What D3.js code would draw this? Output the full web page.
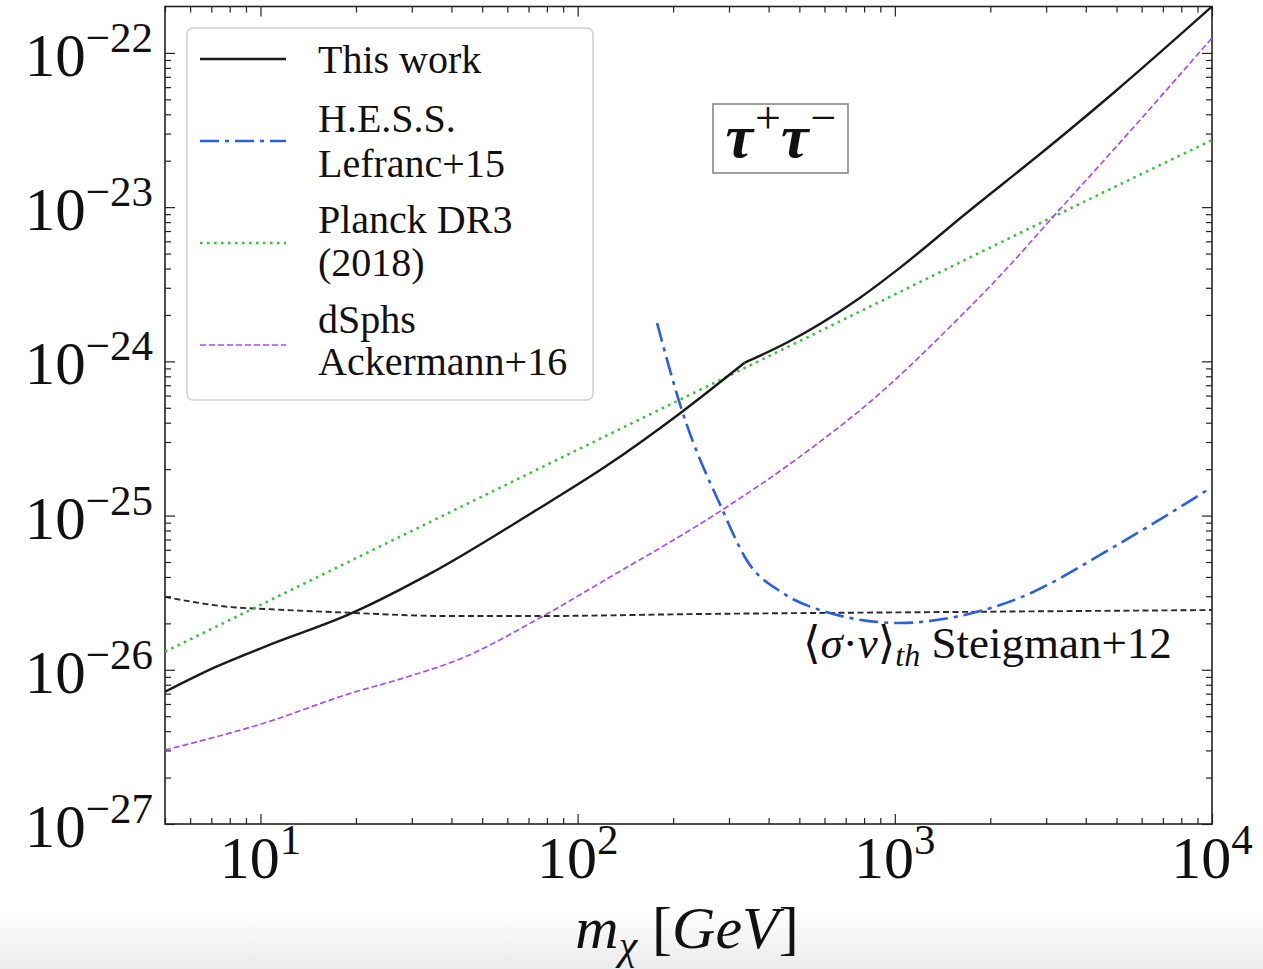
<!DOCTYPE html>
<html>
<head>
<meta charset="utf-8">
<script src="https://cdn.jsdelivr.net/npm/d3@7"></script>
<style>
  html, body { margin: 0; padding: 0; background: #fff; }
  svg { display: block; }
  text { font-family: "Liberation Serif", "DejaVu Serif", serif; fill: #111; }
</style>
</head>
<body>
<script>
// ---------------- data ----------------
const thisWorkMass = [5, 7.2, 10.3, 19.4, 34.6, 71.6, 122, 213, 336, 456, 759, 1037, 1687, 3083, 5014, 10000];
const thisWorkSV   = [7.2e-27, 1.04e-26, 1.41e-26, 2.33e-26, 4.25e-26, 1.04e-25, 2.07e-25, 4.7e-25, 9.8e-25, 1.32e-24, 2.5e-24, 4.04e-24, 9.2e-24, 2.49e-23, 5.75e-23, 2.0e-22];
const thisWorkKinkMass = 336;

const hessMass = [178, 213, 286, 341, 443, 580, 721, 1037, 1491, 2427, 5014, 10000];
const hessSV   = [1.77e-24, 4.84e-25, 1.09e-25, 5.15e-26, 3.15e-26, 2.44e-26, 2.17e-26, 2.01e-26, 2.17e-26, 2.88e-26, 6.44e-26, 1.53e-25];

const planckMass = [5, 50, 500, 5000, 10000];
const planckSV   = [1.31e-26, 1.33e-25, 1.35e-24, 1.37e-23, 2.72e-23];

const dsphMass = [5, 10.3, 19.4, 27, 44, 76.9, 122, 286, 501, 916, 1491, 2144, 3316, 5014, 10000];
const dsphSV   = [3.02e-27, 4.52e-27, 7.08e-27, 8.6e-27, 1.21e-26, 2.2e-26, 3.82e-26, 1.09e-25, 2.4e-25, 6.43e-25, 1.67e-24, 3.58e-24, 9.7e-24, 2.49e-23, 1.25e-22];

const steigMass = [5, 8.1, 10.3, 19.4, 38.9, 71.6, 243, 1491, 10000];
const steigSV   = [2.97e-26, 2.55e-26, 2.48e-26, 2.34e-26, 2.23e-26, 2.23e-26, 2.30e-26, 2.37e-26, 2.44e-26];

const xMajor = [10, 100, 1000, 10000];
const xMajorExp = ["1", "2", "3", "4"];
const yMajor = [1e-27, 1e-26, 1e-25, 1e-24, 1e-23, 1e-22];
const yMajorExp = ["−27", "−26", "−25", "−24", "−23", "−22"];

const legendLabels = [["This work"], ["H.E.S.S.", "Lefranc+15"], ["Planck DR3", "(2018)"], ["dSphs", "Ackermann+16"]];

// ---------------- layout ----------------
const W = 1263, H = 969;
const L = 165, R = 1212, T = 6.5, B = 824;

const svg = d3.select("body").append("svg").attr("width", W).attr("height", H);

const defs = svg.append("defs");
const grad = defs.append("linearGradient").attr("id", "fade").attr("x1", 0).attr("x2", 0).attr("y1", 0).attr("y2", 1);
grad.append("stop").attr("offset", "0%").attr("stop-color", "#ffffff");
grad.append("stop").attr("offset", "100%").attr("stop-color", "#ebebeb");
svg.append("rect").attr("x", 0).attr("y", 905).attr("width", W).attr("height", H - 905).attr("fill", "url(#fade)");

defs.append("clipPath").attr("id", "plotclip").append("rect")
  .attr("x", L).attr("y", T).attr("width", R - L).attr("height", B - T);

const x = d3.scaleLog().domain([5, 1e4]).range([L, R]);
const y = d3.scaleLog().domain([1e-27, 2e-22]).range([B, T]);

const xMinor = [];
for (let d = 1; d <= 1000; d *= 10) for (let k = 2; k <= 9; k++) { const v = k * d; if (v >= 5 && v <= 1e4) xMinor.push(v); }
const yMinor = [];
for (let e = -27; e <= -23; e++) for (let k = 2; k <= 9; k++) { const v = k * Math.pow(10, e); if (v <= 2e-22) yMinor.push(v); }

const axisColor = "#222";
function styleAxis(g) {
  g.select(".domain").remove();
  g.selectAll(".tick line").attr("stroke", axisColor).attr("stroke-width", 1.2);
  g.selectAll(".tick text").remove();
}
const majLen = 10, minLen = 6;
svg.append("g").attr("transform", `translate(0,${B})`).call(d3.axisBottom(x).tickValues(xMajor).tickSize(-majLen).tickFormat("")).call(styleAxis);
svg.append("g").attr("transform", `translate(0,${B})`).call(d3.axisBottom(x).tickValues(xMinor).tickSize(-minLen).tickFormat("")).call(styleAxis);
svg.append("g").attr("transform", `translate(0,${T})`).call(d3.axisTop(x).tickValues(xMajor).tickSize(-majLen).tickFormat("")).call(styleAxis);
svg.append("g").attr("transform", `translate(0,${T})`).call(d3.axisTop(x).tickValues(xMinor).tickSize(-minLen).tickFormat("")).call(styleAxis);
svg.append("g").attr("transform", `translate(${L},0)`).call(d3.axisLeft(y).tickValues(yMajor).tickSize(-majLen).tickFormat("")).call(styleAxis);
svg.append("g").attr("transform", `translate(${L},0)`).call(d3.axisLeft(y).tickValues(yMinor).tickSize(-minLen).tickFormat("")).call(styleAxis);
svg.append("g").attr("transform", `translate(${R},0)`).call(d3.axisRight(y).tickValues(yMajor).tickSize(-majLen).tickFormat("")).call(styleAxis);
svg.append("g").attr("transform", `translate(${R},0)`).call(d3.axisRight(y).tickValues(yMinor).tickSize(-minLen).tickFormat("")).call(styleAxis);

svg.append("rect").attr("x", L).attr("y", T).attr("width", R - L).attr("height", B - T)
  .attr("fill", "none").attr("stroke", axisColor).attr("stroke-width", 1.6);

xMajor.forEach((v, i) => {
  const t = svg.append("text").attr("x", x(v)).attr("y", B + 54).attr("text-anchor", "middle").style("font-size", "60px");
  t.append("tspan").text("10");
  t.append("tspan").attr("dy", -24).style("font-size", "43px").text(xMajorExp[i]);
});
yMajor.forEach((v, i) => {
  const t = svg.append("text").attr("x", 153).attr("y", y(v) + 23).attr("text-anchor", "end").style("font-size", "61px");
  t.append("tspan").text("10");
  t.append("tspan").attr("dy", -24).style("font-size", "43px").text(yMajorExp[i]);
});

{
  const t = svg.append("text").attr("x", 687).attr("y", 948).attr("text-anchor", "middle").style("font-size", "60px");
  t.append("tspan").style("font-style", "italic").text("m");
  t.append("tspan").style("font-style", "italic").style("font-size", "42px").attr("dy", 11).text("χ");
  t.append("tspan").attr("dy", -11).text(" [");
  t.append("tspan").style("font-style", "italic").text("GeV");
  t.append("tspan").text("]");
}

// ---------------- lines ----------------
const plot = svg.append("g").attr("clip-path", "url(#plotclip)");
const line = d3.line().x(d => x(d[0])).y(d => y(d[1])).curve(d3.curveMonotoneX);
const zip = (a, b) => a.map((v, i) => [v, b[i]]);

const thisWork = zip(thisWorkMass, thisWorkSV);
const kinkIdx = thisWorkMass.indexOf(thisWorkKinkMass);

const series = [
  { segs: [zip(steigMass, steigSV)], color: "#2a2a2a", width: 1.9, dash: "6,3.5" },
  { segs: [zip(planckMass, planckSV)], color: "#3cc23c", width: 2.6, dash: "2.6,4.4" },
  { segs: [zip(dsphMass, dsphSV)], color: "#a94cf2", width: 1.7, dash: "6,3" },
  { segs: [zip(hessMass, hessSV)], color: "#2a5fe3", width: 2.6, dash: "19,6,4,6" },
  { segs: [thisWork.slice(0, kinkIdx + 1), thisWork.slice(kinkIdx)], color: "#1a1a1a", width: 2.4, dash: null },
];
series.forEach(s => {
  s.segs.forEach(seg => {
    plot.append("path").datum(seg).attr("d", line)
      .attr("fill", "none").attr("stroke", s.color).attr("stroke-width", s.width)
      .attr("stroke-linejoin", "miter")
      .attr("stroke-dasharray", s.dash);
  });
});

{
  const t = svg.append("text").attr("x", 803).attr("y", 658).style("font-size", "45px");
  t.append("tspan").text("⟨");
  t.append("tspan").style("font-style", "italic").text("σ");
  t.append("tspan").text("·");
  t.append("tspan").style("font-style", "italic").text("v");
  t.append("tspan").text("⟩");
  t.append("tspan").style("font-style", "italic").style("font-size", "32px").attr("dy", 8).text("th");
  t.append("tspan").attr("dy", -8).text(" Steigman+12");
}

svg.append("rect").attr("x", 713).attr("y", 104).attr("width", 135).attr("height", 69)
  .attr("fill", "#fff").attr("stroke", "#888").attr("stroke-width", 1.6);
{
  const t = svg.append("text").attr("x", 781).attr("y", 157).attr("text-anchor", "middle")
    .style("font-size", "62px").style("font-weight", "bold").style("font-style", "italic");
  t.append("tspan").text("τ");
  t.append("tspan").attr("dy", -24).attr("dx", 2).style("font-size", "46px").style("font-style", "normal").style("font-weight", "normal").text("+");
  t.append("tspan").attr("dy", 24).text("τ");
  t.append("tspan").attr("dy", -24).attr("dx", 2).style("font-size", "46px").style("font-style", "normal").style("font-weight", "normal").text("−");
}

svg.append("rect").attr("x", 187).attr("y", 28).attr("width", 406).attr("height", 372).attr("rx", 6)
  .attr("fill", "#fff").attr("fill-opacity", 0.9).attr("stroke", "#cfcfcf").attr("stroke-width", 1.5);
const legendSeries = [series[4], series[3], series[1], series[2]];
const legLineY = [59, 141, 243, 345];
const legTextY = [[73], [132, 177], [233, 276], [333, 375]];
legendSeries.forEach((s, i) => {
  svg.append("line").attr("x1", 200).attr("x2", 286).attr("y1", legLineY[i]).attr("y2", legLineY[i])
    .attr("stroke", s.color).attr("stroke-width", s.width).attr("stroke-dasharray", s.dash);
  legendLabels[i].forEach((lab, j) => {
    svg.append("text").attr("x", 318).attr("y", legTextY[i][j]).style("font-size", "40px").text(lab);
  });
});
</script>
</body>
</html>
